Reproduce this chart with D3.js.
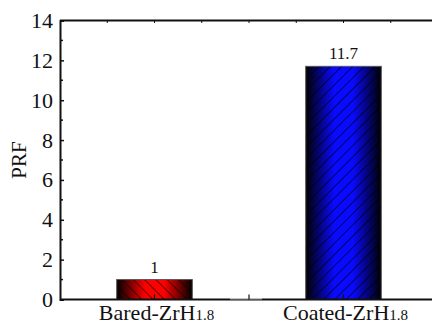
<!DOCTYPE html>
<html>
<head>
<meta charset="utf-8">
<script src="https://cdn.jsdelivr.net/npm/d3@7"></script>
<style>
  body { margin: 0; background: #fff; }
  svg text { font-family: "Liberation Serif", "Times New Roman", serif; fill: #111; }
</style>
</head>
<body>
<svg id="chart" width="433" height="325"></svg>
<script>
const categories = ['Bared-ZrH', 'Coated-ZrH']
const subscripts = ['1.8', '1.8']
const prfValues = [1, 11.7]
const valueLabels = ['1', '11.7']
const yTicks = [0, 2, 4, 6, 8, 10, 12, 14]

const width = 433
const height = 325
const margin = { top: 20.5, right: -5, bottom: 25.5, left: 60 }
const svg = d3.select('#chart')
const serif = '"Liberation Serif", "Times New Roman", serif'

const x = d3.scaleBand()
  .domain(categories)
  .range([margin.left, width - margin.right])
  .paddingInner(0.6)
  .paddingOuter(0.3)

const y = d3.scaleLinear()
  .domain([0, 14])
  .range([height - margin.bottom, margin.top])

// gradients + hatch patterns
const defs = svg.append('defs')
const fills = [
  { id: 'red', color: '#ff0000', dir: '\\' },
  { id: 'blue', color: '#0a0aff', dir: '/' }
]
fills.forEach(f => {
  const g = defs.append('linearGradient')
    .attr('id', 'grad-' + f.id)
    .attr('x1', 0).attr('x2', 1).attr('y1', 0).attr('y2', 0)
  g.append('stop').attr('offset', '0%').attr('stop-color', '#000')
  g.append('stop').attr('offset', '38%').attr('stop-color', f.color)
  g.append('stop').attr('offset', '62%').attr('stop-color', f.color)
  g.append('stop').attr('offset', '100%').attr('stop-color', '#000')

  const p = defs.append('pattern')
    .attr('id', 'hatch-' + f.id)
    .attr('patternUnits', 'userSpaceOnUse')
    .attr('width', 8).attr('height', 8)
    .attr('patternTransform', f.dir === '/' ? 'rotate(45)' : 'rotate(-45)')
  p.append('line')
    .attr('x1', 0).attr('y1', 0).attr('x2', 0).attr('y2', 8)
    .attr('stroke', '#000').attr('stroke-width', 1.4).attr('stroke-opacity', 0.85)
})

// bars
const bars = svg.append('g')
categories.forEach((c, i) => {
  const bx = x(c)
  const by = y(prfValues[i])
  const bh = y(0) - y(prfValues[i])
  bars.append('rect')
    .attr('x', bx).attr('y', by)
    .attr('width', x.bandwidth()).attr('height', bh)
    .attr('fill', `url(#grad-${fills[i].id})`)
  bars.append('rect')
    .attr('x', bx).attr('y', by)
    .attr('width', x.bandwidth()).attr('height', bh)
    .attr('fill', `url(#hatch-${fills[i].id})`)
    .attr('stroke', '#555').attr('stroke-width', 1)
})

// value labels
svg.append('g').selectAll('text')
  .data(categories)
  .enter()
  .append('text')
  .attr('x', d => x(d) + x.bandwidth() / 2)
  .attr('y', (d, i) => y(prfValues[i]) - 7)
  .attr('text-anchor', 'middle')
  .attr('font-family', serif)
  .attr('font-size', 17)
  .text((d, i) => valueLabels[i])

// left axis
const yAxis = svg.append('g')
  .attr('transform', `translate(${margin.left},0)`)
  .call(d3.axisLeft(y).tickValues(yTicks).tickSize(-4).tickPadding(7))
  .attr('font-family', serif)
  .attr('font-size', 22)
yAxis.select('.domain').attr('stroke', '#111').attr('stroke-width', 2)
yAxis.selectAll('.tick line').attr('stroke', '#111').attr('stroke-width', 1.5)
yAxis.selectAll('.tick text').attr('fill', '#111').attr('font-family', serif)

// minor ticks on left axis
svg.append('g').selectAll('line')
  .data(d3.range(1, 14, 2))
  .enter()
  .append('line')
  .attr('x1', margin.left).attr('x2', margin.left + 3)
  .attr('y1', d => y(d)).attr('y2', d => y(d))
  .attr('stroke', '#111').attr('stroke-width', 1.5)

// top axis line with small ticks
const step = x.step()
const x0 = margin.left
const topTicks = d3.range(1, 9).map(k => x0 + k * step / 4)
svg.append('line')
  .attr('x1', margin.left).attr('x2', 432)
  .attr('y1', y(14)).attr('y2', y(14))
  .attr('stroke', '#111').attr('stroke-width', 2)
svg.append('g').selectAll('line')
  .data(topTicks)
  .enter()
  .append('line')
  .attr('x1', d => d).attr('x2', d => d)
  .attr('y1', y(14)).attr('y2', y(14) + 2.5)
  .attr('stroke', '#111').attr('stroke-width', 1)

// bottom axis
const xAxis = svg.append('g')
  .attr('transform', `translate(0,${y(0)})`)
  .call(d3.axisBottom(x).tickSize(0).tickFormat(''))
xAxis.select('.domain').attr('stroke', '#111').attr('stroke-width', 2).attr('d', `M${margin.left},0H432`)

// thinner segment of the bottom axis
svg.append('line')
  .attr('x1', 230).attr('x2', 262)
  .attr('y1', y(0) - 0.6).attr('y2', y(0) - 0.6)
  .attr('stroke', '#fff').attr('stroke-width', 0.8)

// bottom ticks (category centers and midpoint)
const bottomTicks = categories.map(c => x(c) + x.bandwidth() / 2)
bottomTicks.push((bottomTicks[0] + bottomTicks[1]) / 2)
svg.append('g').selectAll('line')
  .data(bottomTicks)
  .enter()
  .append('line')
  .attr('x1', d => d).attr('x2', d => d)
  .attr('y1', y(0)).attr('y2', y(0) - 5)
  .attr('stroke', '#111').attr('stroke-width', 1.2)

// category labels with subscripts
const catText = svg.append('g').selectAll('text')
  .data(categories)
  .enter()
  .append('text')
  .attr('x', d => x(d) + x.bandwidth() / 2 + 2)
  .attr('y', 320)
  .attr('text-anchor', 'middle')
  .attr('font-family', serif)
  .attr('font-size', 22)
catText.append('tspan').text(d => d)
catText.append('tspan')
  .attr('font-size', 15)
  .text((d, i) => subscripts[i])

// y label
svg.append('text')
  .attr('transform', `translate(26,${(y(0) + y(14)) / 2}) rotate(-90)`)
  .attr('text-anchor', 'middle')
  .attr('font-family', serif)
  .attr('font-size', 21)
  .text('PRF')
</script>
</body>
</html>
